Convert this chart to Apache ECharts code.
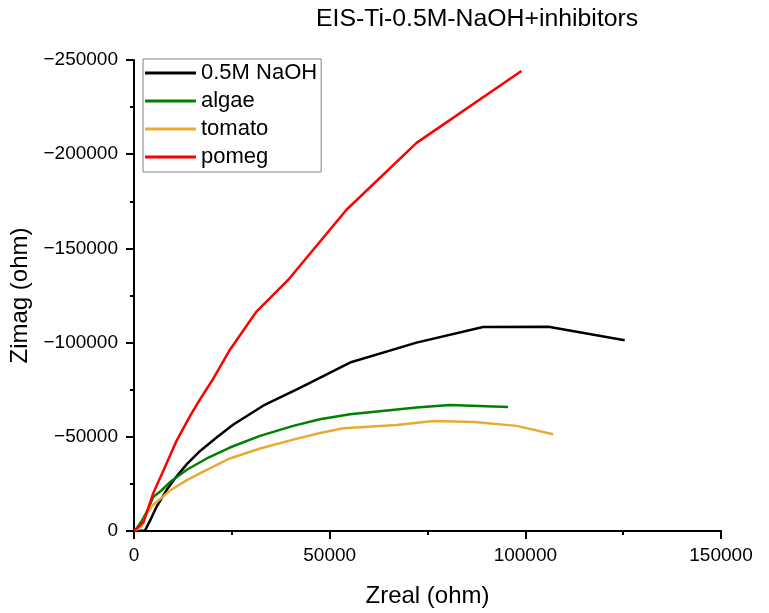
<!DOCTYPE html>
<html>
<head>
<meta charset="utf-8">
<script src="https://cdn.jsdelivr.net/npm/echarts@6/dist/echarts.min.js"></script>
<style>html,body{margin:0;padding:0;background:#fff;}#c{width:769px;height:613px;}</style>
</head>
<body>
<div id="c"></div>
<script>
const titleText = 'EIS-Ti-0.5M-NaOH+inhibitors';
const xName = 'Zreal (ohm)';
const yName = 'Zimag (ohm)';
const seriesNames = ['0.5M NaOH', 'algae', 'tomato', 'pomeg'];
const seriesColors = ['#000000', '#008000', '#E8AA33', '#FF0000'];

const naoh = [[400,0],[2800,-200],[4100,-5500],[5800,-13000],[8400,-22000],[10900,-29000],[13500,-35500],[16900,-42500],[21100,-49600],[25400,-56500],[33000,-66500],[42400,-76000],[55200,-89400],[72200,-100000],[89200,-108300],[105900,-108400],[125400,-101300]];
const algae = [[250,-200],[1900,-5000],[3600,-11500],[4900,-18000],[7000,-21500],[9200,-26000],[13500,-32500],[18600,-38500],[24500,-44300],[32200,-50500],[40700,-55800],[47500,-59300],[55200,-62000],[72200,-65500],[80700,-66900],[95600,-65800]];
const tomato = [[250,-200],[1900,-2500],[3200,-9000],[4900,-14000],[7000,-17500],[9200,-21500],[13500,-27000],[18600,-32500],[24500,-38500],[32200,-43800],[40700,-48500],[47500,-52000],[53500,-54500],[67100,-56300],[76500,-58400],[87000,-57800],[97800,-55800],[107100,-51400]];
const pomeg = [[0,0],[2400,-4600],[4900,-20000],[7500,-32000],[10900,-48000],[14300,-61000],[16900,-70000],[20000,-80000],[24300,-95500],[31300,-116500],[39700,-134000],[54300,-170500],[72200,-206000],[99000,-244200]];
const allData = [naoh, algae, tomato, pomeg];

const FONT = '"Liberation Sans", Arial, sans-serif';
const fmt = v => String(v).replace('-', '\u2212');

const chart = echarts.init(document.getElementById('c'), null, {renderer: 'canvas'});
chart.setOption({
  animation: false,
  backgroundColor: '#ffffff',
  title: {
    text: titleText, left: 316, top: 7, padding: 0,
    textStyle: {fontFamily: FONT, fontSize: 24.8, fontWeight: 'normal', color: '#000'}
  },
  legend: {
    left: 143, top: 59, orient: 'vertical',
    borderColor: '#808080', borderWidth: 1, padding: [3, 4, 4, 2],
    itemWidth: 51, itemHeight: 3, itemGap: 6, icon: 'rect',
    textStyle: {fontFamily: FONT, fontSize: 22, color: '#000', lineHeight: 22},
    data: seriesNames
  },
  grid: {left: 134, right: 48, top: 60, bottom: 81},
  xAxis: {
    type: 'value', min: 0, max: 150000, interval: 50000,
    name: xName, nameLocation: 'middle', nameGap: 53,
    nameTextStyle: {fontFamily: FONT, fontSize: 24, color: '#000'},
    axisLine: {show: true, onZero: false, lineStyle: {color: '#000', width: 2}},
    axisTick: {show: true, inside: false, length: 8, lineStyle: {color: '#000', width: 2}},
    minorTick: {show: true, splitNumber: 2, length: 4, lineStyle: {color: '#000', width: 2}},
    axisLabel: {fontFamily: FONT, fontSize: 19, color: '#000', margin: 15, formatter: fmt},
    splitLine: {show: false}
  },
  yAxis: {
    type: 'value', min: -250000, max: 0, interval: 50000, inverse: true,
    name: yName, nameLocation: 'middle', nameGap: 98,
    nameTextStyle: {fontFamily: FONT, fontSize: 24, color: '#000'},
    axisLine: {show: true, onZero: false, lineStyle: {color: '#000', width: 2}},
    axisTick: {show: true, inside: false, length: 8, lineStyle: {color: '#000', width: 2}},
    minorTick: {show: true, splitNumber: 2, length: 4, lineStyle: {color: '#000', width: 2}},
    axisLabel: {fontFamily: FONT, fontSize: 19, color: '#000', margin: 16, formatter: fmt},
    splitLine: {show: false}
  },
  series: seriesNames.map((n, i) => ({
    name: n, type: 'line', data: allData[i], showSymbol: false, symbol: 'none',
    smooth: false, color: seriesColors[i],
    lineStyle: {color: seriesColors[i], width: 2.5},
    z: 2
  }))
});
</script>
</body>
</html>
